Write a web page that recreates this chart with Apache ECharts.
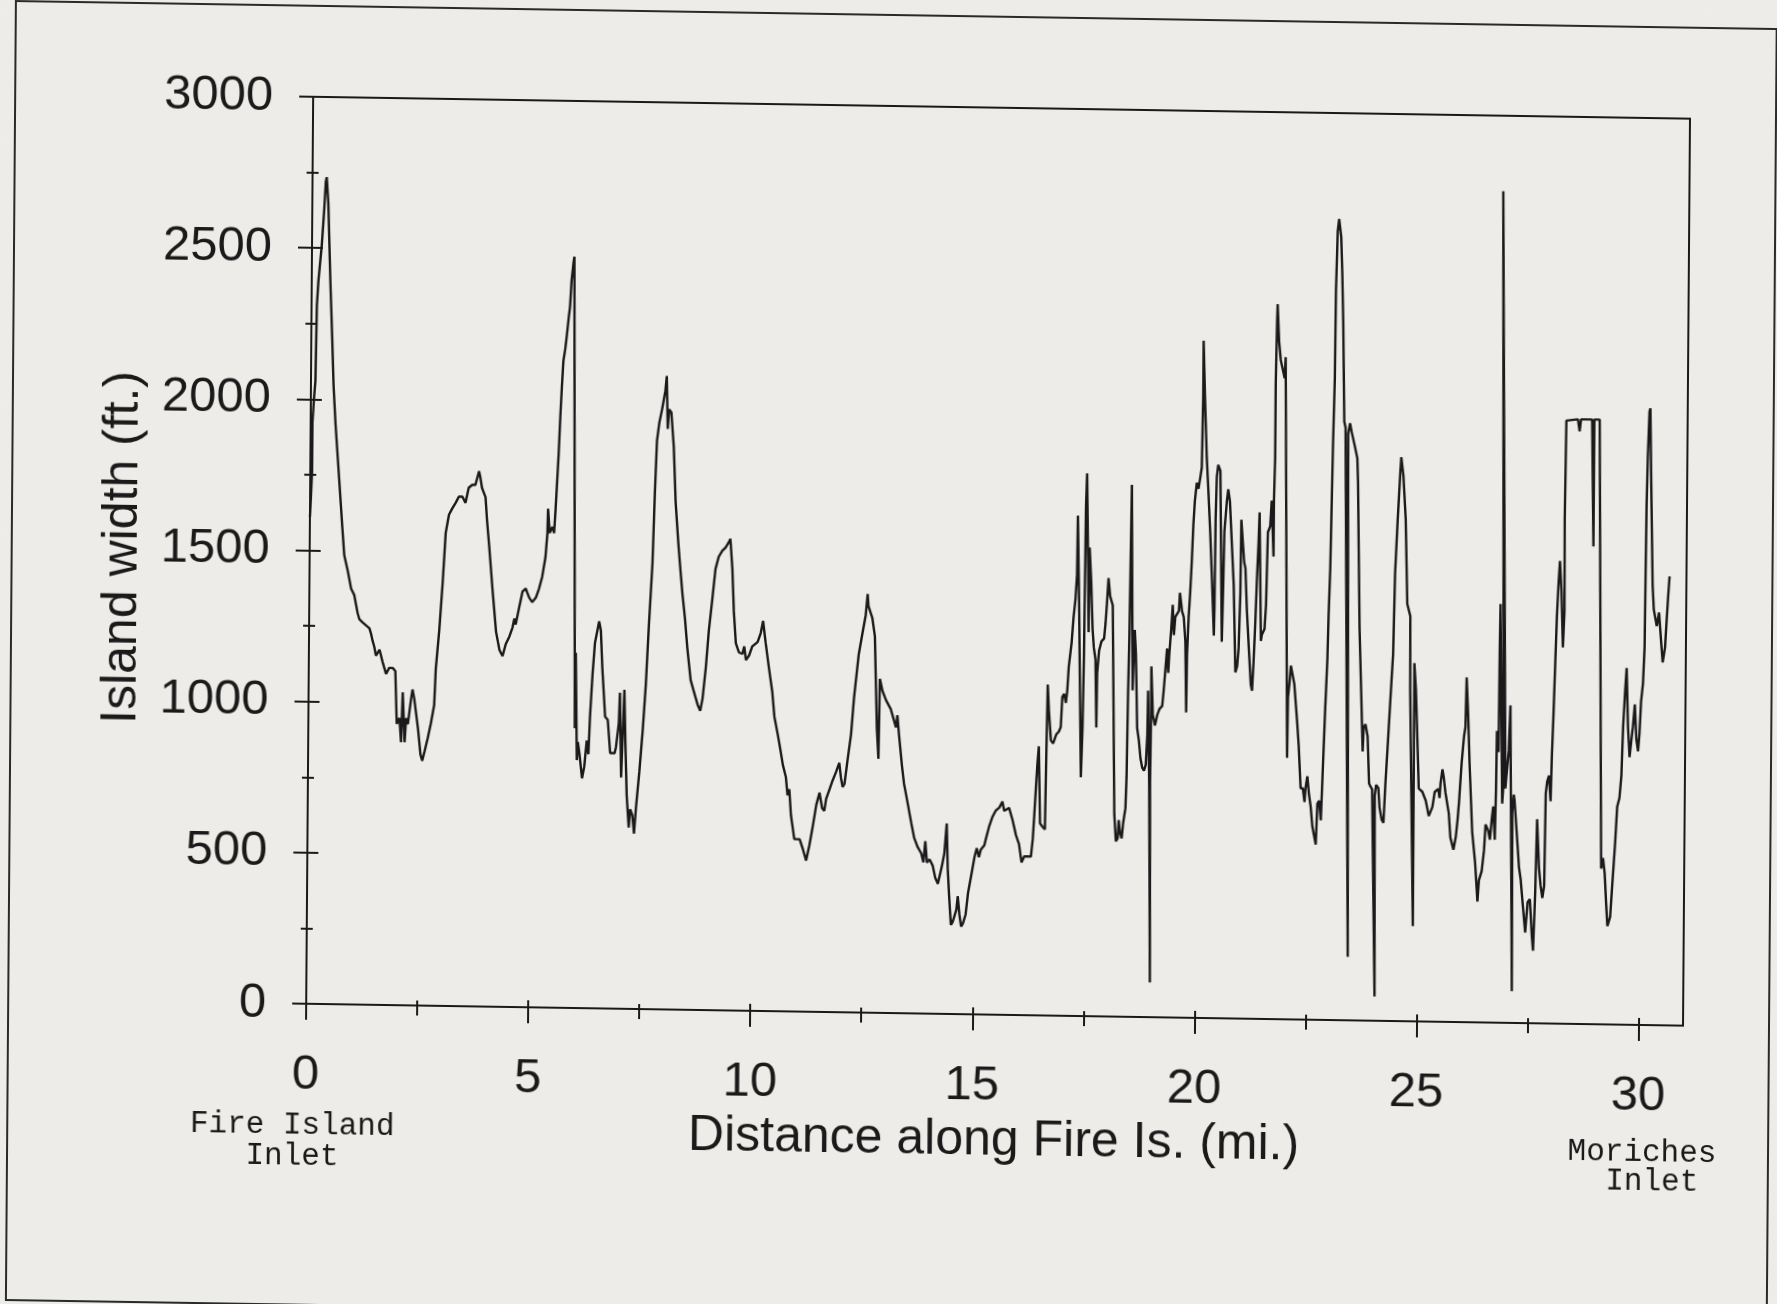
<!DOCTYPE html>
<html>
<head>
<meta charset="utf-8">
<title>Island width along Fire Island</title>
<script src="https://cdn.jsdelivr.net/npm/echarts@6/dist/echarts.min.js"></script>
<style>
html, body { margin: 0; padding: 0; width: 1777px; height: 1304px; overflow: hidden; background: #edece9; }
/* the scanned page sits slightly skewed, so the whole chart is tilted a little */
#chart { width: 1777px; height: 1330px; transform-origin: 888.5px 652px; transform: matrix(1, 0.0159, -0.0077, 1, 0, 0); }
</style>
</head>
<body>
<div id="chart"></div>
<script>
// distance along the island (mi.) and island width (ft.)
var stretchA = [[0.00,1610],[0.02,1680],[0.04,1760],[0.04,1920],[0.07,2000],[0.10,2060],[0.12,2310],[0.15,2390],[0.22,2510],[0.27,2630],[0.30,2720],[0.32,2735],[0.36,2650],[0.42,2390],[0.47,2205],[0.51,2045],[0.56,1920],[0.65,1740],[0.73,1580],[0.78,1485],[0.86,1435],[0.94,1375],[1.01,1355],[1.09,1295],[1.13,1275],[1.20,1265],[1.28,1255],[1.36,1245],[1.40,1225],[1.43,1205],[1.47,1185],[1.51,1155],[1.55,1155],[1.59,1175],[1.66,1135],[1.74,1095],[1.81,1115],[1.89,1115],[1.95,1105],[1.99,930],[2.05,950],[2.09,870],[2.12,1035],[2.17,870],[2.20,950],[2.24,930],[2.31,1015],[2.34,1045],[2.38,1015],[2.47,915],[2.53,830],[2.57,810],[2.62,840],[2.69,885],[2.76,935],[2.83,995],[2.86,1115],[2.93,1240],[3.00,1400],[3.06,1565],[3.13,1625],[3.20,1645],[3.28,1665],[3.35,1685],[3.43,1685],[3.50,1665],[3.57,1715],[3.65,1725],[3.72,1725],[3.80,1770],[3.83,1750],[3.87,1715],[3.95,1685],[3.99,1605],[4.04,1525],[4.12,1385],[4.21,1240],[4.29,1180],[4.36,1160],[4.43,1200],[4.51,1225],[4.58,1255],[4.62,1285],[4.65,1265],[4.73,1325],[4.80,1375],[4.87,1385],[4.95,1355],[5.02,1340],[5.10,1355],[5.17,1385],[5.24,1425],[5.31,1490],[5.35,1570],[5.36,1650],[5.40,1570],[5.46,1590],[5.50,1570],[5.53,1650],[5.59,1835],[5.62,1955],[5.65,2055],[5.68,2140],[5.72,2180],[5.75,2220],[5.79,2280],[5.82,2320],[5.85,2405],[5.89,2465],[5.91,2485]];
var stretchB = [[6.00,925],[6.01,1175],[6.05,820],[6.07,880],[6.11,840],[6.17,760],[6.22,800],[6.27,885],[6.31,840],[6.34,965],[6.39,1105],[6.44,1210],[6.53,1280],[6.57,1250],[6.61,1125],[6.68,965],[6.74,955],[6.80,845],[6.90,845],[6.93,865],[6.99,945],[7.01,1045],[7.05,765],[7.09,765],[7.11,1055],[7.14,885],[7.18,705],[7.23,600],[7.26,660],[7.31,640],[7.35,580],[7.39,665],[7.46,785],[7.53,925],[7.59,1070],[7.65,1270],[7.72,1475],[7.76,1700],[7.80,1880],[7.85,1940],[7.91,1985],[7.98,2045],[8.01,2095],[8.04,1920],[8.07,1985],[8.12,1975],[8.18,1860],[8.23,1680],[8.30,1540],[8.35,1455],[8.40,1375],[8.46,1295],[8.52,1195],[8.60,1090],[8.68,1050],[8.76,1010],[8.82,990],[8.87,1030],[8.94,1135],[9.00,1255],[9.07,1355],[9.14,1460],[9.21,1500],[9.29,1520],[9.36,1530],[9.44,1550],[9.47,1560],[9.52,1460],[9.56,1320],[9.61,1215],[9.68,1185],[9.76,1180],[9.80,1205],[9.84,1160],[9.91,1175],[9.98,1205],[10.10,1220],[10.17,1250],[10.22,1290],[10.28,1220],[10.36,1135],[10.44,1055],[10.49,975],[10.57,915],[10.62,875],[10.69,815],[10.76,775],[10.80,715],[10.84,735],[10.88,650],[10.96,570],[11.08,570],[11.15,540],[11.23,500],[11.30,550],[11.37,610],[11.45,685],[11.52,725],[11.58,675],[11.63,665],[11.67,705],[11.74,735],[11.81,765],[11.89,795],[11.96,825],[12.00,775],[12.04,745],[12.08,755],[12.15,840],[12.22,920],[12.28,1040],[12.38,1185]];
var stretchC = [[12.46,1255],[12.53,1315],[12.57,1385],[12.59,1345],[12.68,1305],[12.74,1245],[12.80,940],[12.84,840],[12.86,1105],[12.92,1065],[13.00,1035],[13.11,1005],[13.23,945],[13.26,985],[13.30,920],[13.37,820],[13.42,760],[13.50,700],[13.59,630],[13.66,580],[13.74,550],[13.82,530],[13.87,500],[13.91,570],[13.95,500],[14.01,510],[14.08,490],[14.14,450],[14.20,430],[14.24,430],[14.29,490],[14.34,530],[14.39,630],[14.42,480],[14.46,380],[14.50,295],[14.54,305],[14.62,345],[14.65,390],[14.69,330],[14.73,290],[14.77,300],[14.83,330],[14.88,400],[14.95,460],[15.02,520],[15.07,550],[15.12,520],[15.16,545],[15.20,550],[15.24,560],[15.28,585],[15.35,625],[15.42,655],[15.49,675],[15.57,685],[15.64,705],[15.68,675],[15.72,675],[15.79,685],[15.87,645],[15.95,595],[16.02,565],[16.08,505],[16.14,525],[16.21,525],[16.29,525],[16.33,585],[16.36,665],[16.39,750],[16.42,830],[16.45,890],[16.49,635],[16.54,625],[16.60,615],[16.62,870],[16.64,1095],[16.67,1010],[16.72,910],[16.77,900],[16.81,900],[16.84,930],[16.90,940],[16.94,955],[16.97,1055],[17.01,1065],[17.05,1035],[17.08,1075],[17.11,1155],[17.17,1235],[17.21,1320],[17.25,1380],[17.28,1460],[17.29,1655],[17.33,1380],[17.40,790],[17.43,955],[17.45,1195],[17.46,1440],[17.47,1685],[17.49,1795],[17.53,1480],[17.55,1270],[17.56,1550],[17.60,1440],[17.64,1280],[17.67,1220],[17.71,1180],[17.74,955],[17.75,1135],[17.79,1210],[17.84,1240],[17.90,1250],[17.93,1300],[17.96,1370],[17.99,1450],[18.03,1390],[18.09,1360],[18.16,670],[18.20,580],[18.24,590],[18.26,650],[18.29,610],[18.33,590],[18.36,640],[18.41,690],[18.43,795],[18.45,1080],[18.47,1270],[18.49,1270],[18.50,1760],[18.55,1080],[18.59,1280],[18.62,1200],[18.66,955]];
var stretchD = [[18.70,915],[18.74,855],[18.78,825],[18.82,815],[18.86,835],[18.89,935],[18.90,1080],[18.94,775],[18.99,115],[18.96,775],[18.97,975],[18.97,1160],[19.01,1000],[19.06,965],[19.11,1000],[19.16,1020],[19.22,1030],[19.25,1080],[19.29,1160],[19.32,1220],[19.35,1140],[19.37,1200],[19.41,1285],[19.44,1365],[19.47,1265],[19.50,1325],[19.58,1345],[19.60,1405],[19.65,1345],[19.69,1325],[19.73,1245],[19.76,1010],[19.77,1200],[19.80,1325],[19.83,1405],[19.86,1505],[19.89,1630],[19.92,1710],[19.96,1770],[20.00,1750],[20.04,1790],[20.07,1820],[20.09,2055],[20.09,2240],[20.13,2055],[20.18,1855],[20.22,1750],[20.27,1610],[20.32,1445],[20.37,1265],[20.38,1365],[20.39,1650],[20.41,1790],[20.44,1830],[20.49,1810],[20.55,1245],[20.57,1410],[20.59,1610],[20.64,1710],[20.67,1750],[20.71,1710],[20.76,1570],[20.81,1430],[20.86,1145],[20.90,1165],[20.93,1225],[20.96,1410],[20.97,1650],[21.01,1570],[21.04,1510],[21.07,1490],[21.11,1350],[21.16,1225],[21.21,1105],[21.24,1085],[21.27,1185],[21.30,1305],[21.33,1450],[21.36,1570],[21.38,1675],[21.43,1250],[21.45,1270],[21.51,1290],[21.54,1370],[21.57,1610],[21.62,1630],[21.65,1715],[21.70,1530],[21.70,1715],[21.72,1855],[21.72,2100],[21.74,2305],[21.75,2365],[21.79,2240],[21.83,2180],[21.86,2160],[21.89,2140],[21.92,2120],[21.94,2190],[22.04,865],[22.05,1065],[22.08,1110],[22.11,1170],[22.15,1170],[22.19,1110],[22.26,985],[22.30,905],[22.35,765],[22.40,765],[22.44,720],[22.46,765],[22.50,805],[22.54,745],[22.58,705],[22.62,640],[22.66,640],[22.70,580],[22.73,715],[22.77,725],[22.81,660],[22.85,845],[22.89,1030],[22.93,1190],[22.95,1335],[22.98,1495],[23.00,1700],[23.02,1900],[23.05,2125],[23.06,2410],[23.09,2610],[23.12,2650],[23.17,2590],[23.20,2470],[23.23,2305],[23.27,1980],[23.30,1960],[23.44,210],[23.36,1940],[23.40,1975],[23.44,1945],[23.51,1900],[23.57,1860],[23.59,1780],[23.65,1295],[23.71,1030],[23.74,890],[23.76,970],[23.80,980],[23.85,940],[23.89,785],[23.92,775],[23.96,765],[24.05,80],[24.02,745],[24.05,780],[24.10,770],[24.13,705],[24.18,665],[24.22,655],[24.26,790],[24.31,930],[24.36,1075],[24.41,1215],[24.44,1480],[24.49,1660],[24.54,1815],[24.56,1865],[24.61,1805],[24.67,1660],[24.72,1380],[24.79,1340],[24.80,1095],[24.90,315],[24.89,1185],[24.93,1095],[24.96,975]];
var stretchE = [[25.01,770],[25.09,760],[25.17,730],[25.24,680],[25.32,710],[25.37,760],[25.45,770],[25.48,740],[25.50,790],[25.54,835],[25.57,810],[25.61,760],[25.69,690],[25.73,610],[25.80,570],[25.85,610],[25.89,670],[25.92,730],[25.97,855],[26.02,945],[26.05,975],[26.07,1140],[26.11,1015],[26.15,855],[26.22,630],[26.29,530],[26.35,400],[26.38,470],[26.44,500],[26.49,570],[26.52,655],[26.58,635],[26.62,605],[26.66,675],[26.69,715],[26.73,605],[26.75,775],[26.76,965],[26.80,895],[26.81,1240],[26.82,1385],[26.89,725],[26.92,795],[26.81,2750],[26.96,775],[26.98,815],[27.03,900],[27.06,1050],[27.14,105],[27.12,695],[27.15,755],[27.17,735],[27.21,655],[27.25,575],[27.28,515],[27.32,475],[27.36,410],[27.43,300],[27.48,400],[27.53,410],[27.58,290],[27.61,240],[27.65,435],[27.68,675],[27.73,515],[27.77,455],[27.81,415],[27.85,455],[27.87,760],[27.90,800],[27.94,820],[27.98,735],[28.00,880],[28.03,1020],[28.06,1185],[28.09,1345],[28.12,1450],[28.15,1530],[28.19,1430],[28.23,1245],[28.26,1365],[28.25,1670],[28.27,1995],[28.28,2000],[28.53,2000],[28.57,1960],[28.60,2000],[28.85,2000],[28.90,1580],[28.90,2000],[29.02,2000],[29.13,515],[29.17,550],[29.21,500],[29.25,395],[29.28,325],[29.34,355],[29.38,455],[29.44,600],[29.48,720],[29.53,750],[29.57,825],[29.60,985],[29.64,1105],[29.67,1180],[29.71,985],[29.75,885],[29.79,945],[29.82,985],[29.86,1060],[29.90,945],[29.94,905],[29.97,965],[30.00,1070],[30.04,1130],[30.07,1250],[30.08,1495],[30.09,1715],[30.11,1880],[30.14,2030],[30.16,2040],[30.19,1800],[30.24,1455],[30.27,1375],[30.34,1320],[30.39,1365],[30.44,1270],[30.48,1200],[30.53,1250],[30.56,1335],[30.59,1415],[30.62,1485]];

var xTicks = [0, 5, 10, 15, 20, 25, 30];
var xMinorTicks = [2.5, 7.5, 12.5, 17.5, 22.5, 27.5];
var yTicks = [0, 500, 1000, 1500, 2000, 2500, 3000];
var yMinorTicks = [250, 750, 1250, 1750, 2250, 2750];

var ink = '#1a1a1a';
var sans = 'Liberation Sans, Arial, Helvetica, sans-serif';
var mono = 'Liberation Mono, Courier New, monospace';

var myChart = echarts.init(document.getElementById('chart'));

// one axis layer per tick kind: ticks stick out on both sides of the axis in the original
function tickLayer(kind, values, len, inside, max) {
    return {
        type: 'value', min: 0, max: max,
        position: kind === 'x' ? 'bottom' : 'left',
        axisLine: { show: false },
        axisLabel: { show: false },
        splitLine: { show: false },
        axisTick: { show: true, customValues: values, inside: inside, length: len, lineStyle: { color: ink, width: 2 } }
    };
}

// plain numbers, no thousands separator
function plain(v) { return String(v); }

var mainX = {
    type: 'value', min: 0, max: 31, position: 'bottom',
    name: 'Distance along Fire Is. (mi.)',
    nameLocation: 'middle', nameGap: 99,
    nameTextStyle: { fontSize: 50, color: ink, fontFamily: sans },
    axisLine: { show: true, lineStyle: { color: ink, width: 2 } },
    axisTick: { show: true, customValues: xTicks, length: 16, lineStyle: { color: ink, width: 2 } },
    axisLabel: { show: true, customValues: xTicks, formatter: plain, margin: 47, fontSize: 49, color: ink, fontFamily: sans },
    splitLine: { show: false }
};
var mainY = {
    type: 'value', min: 0, max: 3000, position: 'left',
    name: 'Island width (ft.)',
    nameLocation: 'middle', nameGap: 162,
    nameTextStyle: { fontSize: 50, color: ink, fontFamily: sans },
    axisLine: { show: true, lineStyle: { color: ink, width: 2 } },
    axisTick: { show: true, customValues: yTicks, length: 14, lineStyle: { color: ink, width: 2 } },
    axisLabel: { show: true, customValues: yTicks, formatter: plain, margin: 40, fontSize: 49, color: ink, fontFamily: sans },
    splitLine: { show: false }
};

var option = {
    backgroundColor: '#edece9',
    animation: false,
    grid: { left: 309, top: 106, width: 1377, height: 907, show: true, borderColor: ink, borderWidth: 2 },
    xAxis: [
        mainX,
        tickLayer('x', xTicks, 7, true, 31),
        tickLayer('x', xMinorTicks, 10, false, 31),
        tickLayer('x', xMinorTicks, 5, true, 31)
    ],
    yAxis: [
        mainY,
        tickLayer('y', yTicks, 11, true, 3000),
        tickLayer('y', yMinorTicks, 6, false, 3000),
        tickLayer('y', yMinorTicks, 6, true, 3000)
    ],
    graphic: [
        { type: 'rect', silent: true, z: -10, shape: { x: 11, y: 15, width: 1761, height: 1299 },
          style: { fill: 'none', stroke: '#2a2a2a', lineWidth: 2 } },
        { type: 'text', x: 296, y: 1135, style: { text: 'Fire Island', font: '31px ' + mono, fill: ink, align: 'center', verticalAlign: 'middle' } },
        { type: 'text', x: 296, y: 1166, style: { text: 'Inlet', font: '31px ' + mono, fill: ink, align: 'center', verticalAlign: 'middle' } },
        { type: 'text', x: 1646, y: 1141, style: { text: 'Moriches', font: '31px ' + mono, fill: ink, align: 'center', verticalAlign: 'middle' } },
        { type: 'text', x: 1656, y: 1170, style: { text: 'Inlet', font: '31px ' + mono, fill: ink, align: 'center', verticalAlign: 'middle' } }
    ],
    series: [{
        name: 'Island width',
        type: 'line',
        xAxisIndex: 0,
        yAxisIndex: 0,
        showSymbol: false,
        symbol: 'none',
        lineStyle: { color: ink, width: 2.4 },
        data: stretchA.concat(stretchB, stretchC, stretchD, stretchE)
    }]
};

myChart.setOption(option);
</script>
</body>
</html>
